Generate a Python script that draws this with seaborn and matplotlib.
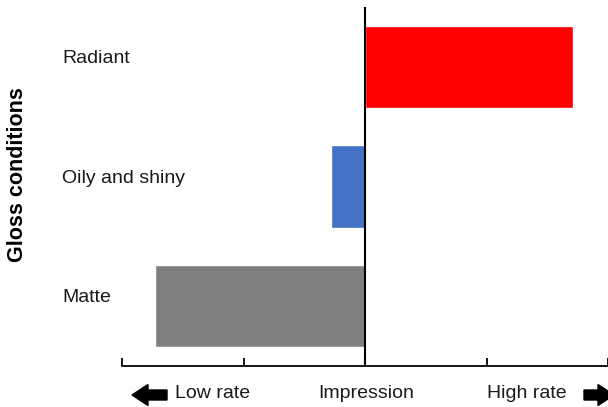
import numpy as np
import pandas as pd
import matplotlib
matplotlib.use("Agg")
import matplotlib.pyplot as plt
import seaborn as sns
from matplotlib.patches import FancyArrow
from matplotlib.transforms import IdentityTransform

# ---------------------- DATA ----------------------
conditions = ["Radiant", "Oily and shiny", "Matte"]
impression = [1.71, -0.28, -1.73]
bar_colors = ["#FF0000", "#4472C4", "#7F7F7F"]
x_ticks = [-2, -1, 0, 1, 2]

df = pd.DataFrame({"condition": conditions, "impression": impression})

# ---------------------- PLOT ----------------------
sns.set_style("white")
plt.rcParams["font.family"] = ["Liberation Sans", "DejaVu Sans"]
plt.rcParams["text.color"] = "black"

W, H = 608, 407
fig = plt.figure(figsize=(W / 100, H / 100), dpi=100)
ax = fig.add_axes([122 / W, 41 / H, (W - 122) / W, (400 - 41) / H])

sns.barplot(data=df, y="condition", x="impression", hue="condition",
            palette=bar_colors, orient="h", width=0.69, legend=False,
            saturation=1, ax=ax)

ax.set_xlim(-2, 1.98)
ax.set_ylim(2.5, -0.5)
ax.axvline(0, color="black", lw=1.5)

for s in ["top", "right", "left"]:
    ax.spines[s].set_visible(False)
ax.spines["bottom"].set_color("black")
ax.spines["bottom"].set_linewidth(1.3)

ax.set_xticks(x_ticks)
ax.tick_params(axis="x", bottom=True, direction="in", length=6, width=1.3,
               color="black", labelbottom=False)
ax.tick_params(axis="y", left=False, length=0, pad=43, labelsize=14,
               labelcolor="#1a1a1a")
for lab in ax.get_yticklabels():
    lab.set_ha("left")
    lab.set_va("bottom")
ax.set_xlabel("")
ax.set_ylabel("")

fig.text(18 / W, 1 - 175 / H, "Gloss conditions", rotation=90, fontsize=15.5,
         fontweight="bold", ha="center", va="center")

# bottom annotations
ty = 14 / H
fig.text(213 / W, ty, "Low rate", fontsize=14, ha="center", va="center",
         color="#1a1a1a")
fig.text(366 / W, ty, "Impression", fontsize=14, ha="center", va="center",
         color="#1a1a1a")
fig.text(527 / W, ty, "High rate", fontsize=14, ha="center", va="center",
         color="#1a1a1a")

fig.patches.append(FancyArrow(167, 12, -35, 0, width=10, head_width=21,
                              head_length=16, length_includes_head=True,
                              color="black", transform=IdentityTransform(),
                              figure=fig))
fig.patches.append(FancyArrow(584, 12, 30, 0, width=10, head_width=21,
                              head_length=16, length_includes_head=True,
                              color="black", transform=IdentityTransform(),
                              figure=fig))

fig.savefig("out.png", dpi=100)
